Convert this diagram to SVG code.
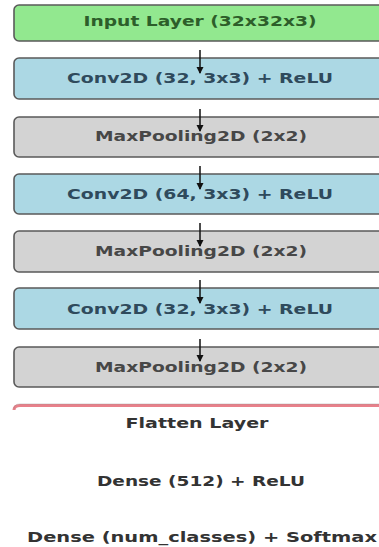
<svg xmlns="http://www.w3.org/2000/svg" width="379" height="547" viewBox="0 0 379 547">
<style>
.box{stroke:#5a5a5a;stroke-width:1.6}
.in{fill:#92e88f}
.cv{fill:#acd8e4}
.mp{fill:#d3d3d3}
text{font-family:"DejaVu Sans",sans-serif;font-weight:bold;font-size:14px;text-anchor:middle}
.tin{fill:#2d5e2a}
.tcv{fill:#2f4a5c}
.tmp{fill:#474747}
.tpl{fill:#333}
.arr{stroke:#111;stroke-width:1.5;fill:none;marker-end:url(#ah)}
</style>
<defs>
<marker id="ah" markerWidth="8" markerHeight="8" refX="6" refY="3.5" orient="auto" markerUnits="userSpaceOnUse">
<path d="M0,0 L7,3.5 L0,7 Z" fill="#111"/>
</marker>
</defs>
<rect width="379" height="547" fill="#fff"/>
<g id="input"><rect class="box in" x="14" y="5" width="380" height="36" rx="5"/><text class="tin" x="200" y="25.5" textLength="233" lengthAdjust="spacingAndGlyphs">Input Layer (32x32x3)</text></g>
<g id="conv1"><rect class="box cv" x="14" y="58" width="380" height="41" rx="5"/><text class="tcv" x="200" y="83" textLength="266" lengthAdjust="spacingAndGlyphs">Conv2D (32, 3x3) + ReLU</text></g>
<g id="pool1"><rect class="box mp" x="14" y="117" width="380" height="40" rx="5"/><text class="tmp" x="201" y="141" textLength="212" lengthAdjust="spacingAndGlyphs">MaxPooling2D (2x2)</text></g>
<g id="conv2"><rect class="box cv" x="14" y="174" width="380" height="40" rx="5"/><text class="tcv" x="200" y="198.5" textLength="266" lengthAdjust="spacingAndGlyphs">Conv2D (64, 3x3) + ReLU</text></g>
<g id="pool2"><rect class="box mp" x="14" y="231" width="380" height="41" rx="5"/><text class="tmp" x="201" y="256" textLength="212" lengthAdjust="spacingAndGlyphs">MaxPooling2D (2x2)</text></g>
<g id="conv3"><rect class="box cv" x="14" y="288" width="380" height="41" rx="5"/><text class="tcv" x="200" y="313.5" textLength="266" lengthAdjust="spacingAndGlyphs">Conv2D (32, 3x3) + ReLU</text></g>
<g id="pool3"><rect class="box mp" x="14" y="347" width="380" height="40" rx="5"/><text class="tmp" x="201" y="371.5" textLength="212" lengthAdjust="spacingAndGlyphs">MaxPooling2D (2x2)</text></g>
<g id="flatten"><path d="M14,410 Q14,405.5 20,405.5 H380" fill="none" stroke="#e8808a" stroke-width="3"/><path d="M14,409 Q14,404 20,404 H380" fill="none" stroke="#888" stroke-width="0.6" opacity="0.6"/><text class="tpl" x="197" y="428" textLength="143" lengthAdjust="spacingAndGlyphs">Flatten Layer</text></g>
<g id="dense1"><text class="tpl" x="201" y="485.5" textLength="208" lengthAdjust="spacingAndGlyphs">Dense (512) + ReLU</text></g>
<g id="dense2"><text class="tpl" x="202" y="542" textLength="350" lengthAdjust="spacingAndGlyphs">Dense (num_classes) + Softmax</text></g>
<g id="connectors">
<line class="arr" x1="200" y1="50" x2="200" y2="73"/>
<line class="arr" x1="200" y1="109" x2="200" y2="131"/>
<line class="arr" x1="200" y1="166" x2="200" y2="189"/>
<line class="arr" x1="200" y1="223" x2="200" y2="246"/>
<line class="arr" x1="200" y1="280" x2="200" y2="303"/>
<line class="arr" x1="200" y1="339" x2="200" y2="361"/>
</g>
</svg>
